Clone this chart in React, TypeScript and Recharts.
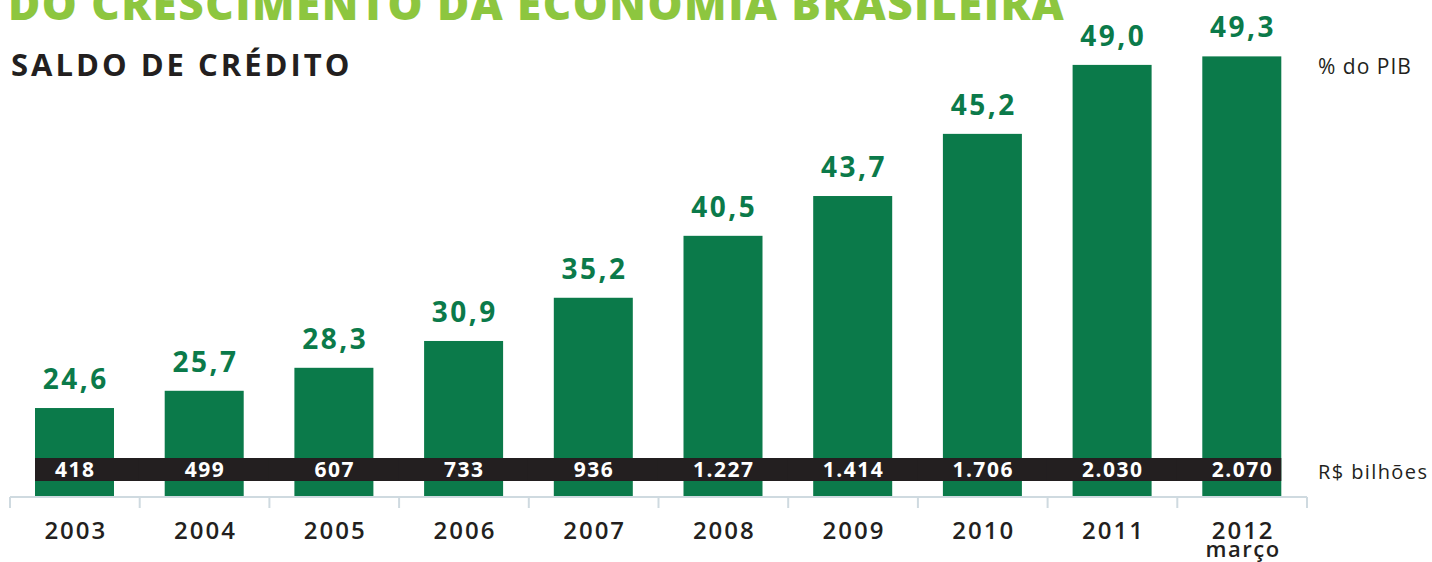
import { BarChart, Bar, XAxis, YAxis, LabelList } from "recharts";

// ─── Data ─────────────────────────────────────────────────────────────────────
const years = ["2003", "2004", "2005", "2006", "2007", "2008", "2009", "2010", "2011", "2012"];
const yearNotes = ["", "", "", "", "", "", "", "", "", "março"];
const pctPib = [24.6, 25.7, 28.3, 30.9, 35.2, 40.5, 43.7, 45.2, 49.0, 49.3];
const creditBillions = [418, 499, 607, 733, 936, 1227, 1414, 1706, 2030, 2070];

const data = years.map((year, i) => ({
  year,
  note: yearNotes[i],
  pct: pctPib[i],
  credit: creditBillions[i],
}));

// ─── Layout / style ───────────────────────────────────────────────────────────
const W = 1432;
const H = 562;
const MARGIN = { top: 50, right: 125, bottom: 0, left: 10 };
const X_AXIS_H = 65;
const PLOT_BOTTOM = H - MARGIN.bottom - X_AXIS_H;
const BAND = (W - MARGIN.left - MARGIN.right) / years.length;
const BAR_W = 79;

const GREEN = "#0b7a4a";
const LIGHT_GREEN = "#8dc63f";
const INK = "#231f20";
const AXIS = "#cfdae0";
const FONT = "'Open Sans', 'DejaVu Sans', sans-serif";

const fmtPct = (v: number) => v.toFixed(1).replace(".", ",");
const fmtThousands = (v: number) =>
  String(v).replace(/\B(?=(\d{3})+(?!\d))/g, ".");

// ─── Bar with the black "R$ bilhões" strip ────────────────────────────────────
const CreditBar = (props: any) => {
  const { x, y, width, height, index, payload } = props;
  const half = (BAND - width) / 2;
  const left = index === 0 ? x : x - half - 0.5;
  const right = index === years.length - 1 ? x + width : x + width + half + 0.5;
  const stripTop = PLOT_BOTTOM - 39;
  return (
    <g>
      <rect x={x} y={y} width={width} height={height} fill={GREEN} />
      <rect x={left} y={stripTop} width={right - left} height={23} fill={INK} />
      <text
        x={x + width / 2 + 0.75}
        y={stripTop + 19}
        textAnchor="middle"
        fill="#fff"
        fontFamily={FONT}
        fontWeight={700}
        fontSize={21}
        letterSpacing={1.5}
      >
        {fmtThousands(payload.credit)}
      </text>
    </g>
  );
};

// ─── Value label above bar ────────────────────────────────────────────────────
const PctLabel = (props: any) => {
  const { x, y, width, index } = props;
  return (
    <text
      x={x + width / 2 + 1.25}
      y={y - 19}
      textAnchor="middle"
      fill={GREEN}
      fontFamily={FONT}
      fontWeight={700}
      fontSize={28}
      letterSpacing={2.5}
    >
      {fmtPct(pctPib[index])}
    </text>
  );
};

// ─── Year tick with boundary marks ────────────────────────────────────────────
const YearTick = (props: any) => {
  const { x, index, payload } = props;
  const note = yearNotes[index];
  return (
    <g>
      <line x1={x - BAND / 2} x2={x - BAND / 2} y1={PLOT_BOTTOM} y2={PLOT_BOTTOM + 11} stroke={AXIS} strokeWidth={2} />
      {index === years.length - 1 && (
        <line x1={x + BAND / 2} x2={x + BAND / 2} y1={PLOT_BOTTOM} y2={PLOT_BOTTOM + 11} stroke={AXIS} strokeWidth={2} />
      )}
      <text x={x + 1} y={PLOT_BOTTOM + 42} textAnchor="middle" fill={INK} fontFamily={FONT} fontWeight={600} fontSize={24} letterSpacing={2}>
        {payload.value}
      </text>
      {note && (
        <text x={x + 1} y={PLOT_BOTTOM + 60} textAnchor="middle" fill={INK} fontFamily={FONT} fontWeight={600} fontSize={22} letterSpacing={1.5}>
          {note}
        </text>
      )}
    </g>
  );
};

// ─── Component ────────────────────────────────────────────────────────────────
export default function App() {
  return (
    <div style={{ position: "absolute", left: 0, top: 0, width: W, height: H, background: "#fff", overflow: "hidden" }}>
      <BarChart width={W} height={H} data={data} margin={MARGIN}>
        <XAxis
          dataKey="year"
          height={X_AXIS_H}
          tickLine={false}
          axisLine={{ stroke: AXIS, strokeWidth: 2 }}
          interval={0}
          tick={<YearTick />}
        />
        <YAxis hide domain={[0, 2100]} />
        <Bar dataKey="credit" barSize={BAR_W} shape={<CreditBar />} isAnimationActive={false}>
          <LabelList dataKey="pct" content={<PctLabel />} />
        </Bar>
      </BarChart>
      <svg width={W} height={H} style={{ position: "absolute", left: 0, top: 0, pointerEvents: "none" }}>
        <text x={8} y={20} fill={LIGHT_GREEN} fontFamily={FONT} fontWeight={800} fontSize={44} letterSpacing={1.5}>
          DO CRESCIMENTO DA ECONOMIA BRASILEIRA
        </text>
        <text x={11} y={76} fill={INK} fontFamily={FONT} fontWeight={700} fontSize={31} letterSpacing={3}>
          SALDO DE CRÉDITO
        </text>
        <text x={1318} y={74} fill={INK} fontFamily={FONT} fontWeight={500} fontSize={21} letterSpacing={1}>
          % do PIB
        </text>
        <text x={1318} y={479} fill={INK} fontFamily={FONT} fontWeight={500} fontSize={20} letterSpacing={1.4}>
          R$ bilhões
        </text>
      </svg>
    </div>
  );
}
